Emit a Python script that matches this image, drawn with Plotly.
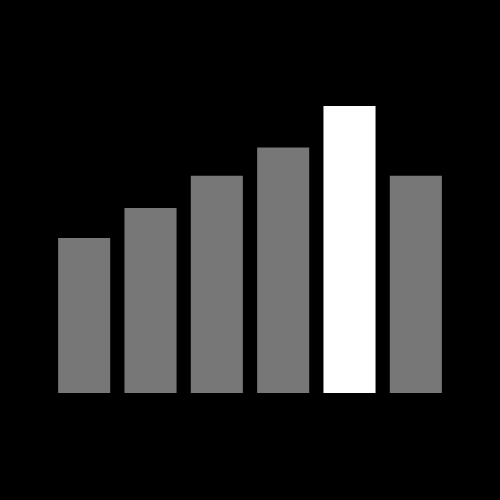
import plotly.graph_objects as go

categories = ["A", "B", "C", "D", "E", "F"]
values = [54, 64.5, 75.7, 85.5, 100, 75.7]
highlight = "E"

colors = ["#ffffff" if c == highlight else "#777777" for c in categories]

fig = go.Figure(
    go.Bar(
        x=categories,
        y=values,
        marker={"color": colors, "line": {"width": 0}},
        hoverinfo="skip",
    )
)

fig.update_layout(
    width=500,
    height=500,
    paper_bgcolor="#000000",
    plot_bgcolor="#000000",
    margin={"l": 51, "r": 51, "t": 106, "b": 107},
    bargap=0.215,
    showlegend=False,
)
fig.update_xaxes(visible=False)
fig.update_yaxes(visible=False, range=[0, 100])

# page has a default white body margin; make it black and flush
page_fix = "document.body.style.margin='0';document.body.style.background='#000';"
fig.write_html("out.html", post_script=page_fix, config={"displayModeBar": False})
